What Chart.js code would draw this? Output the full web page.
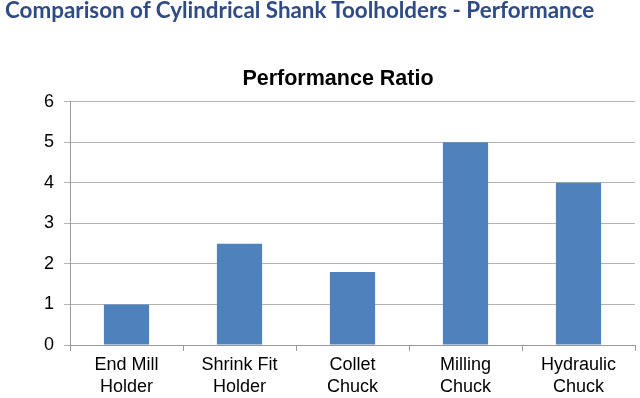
<!DOCTYPE html>
<html>
<head>
<meta charset="utf-8">
<script src="https://cdn.jsdelivr.net/npm/chart.js@4/dist/chart.umd.min.js"></script>
<style>
  html, body { margin: 0; padding: 0; background: #fff; }
  #page { position: relative; width: 640px; height: 398px; overflow: hidden; }
  #heading {
    position: absolute; left: 5px; top: -1px;
    font: bold 22.4px Lato, 'Open Sans', sans-serif; line-height: 22px;
    color: #2e4b85; white-space: nowrap;
  }
  #chart-wrap { position: absolute; left: 0; top: 0; width: 640px; height: 398px; }
</style>
</head>
<body>
<div id="page">
  <div id="chart-wrap"><canvas id="chart-perf"></canvas></div>
  <div id="heading">Comparison of Cylindrical Shank Toolholders - Performance</div>
</div>
<script>
// data
const categories = [['End Mill', 'Holder'], ['Shrink Fit', 'Holder'], ['Collet', 'Chuck'], ['Milling', 'Chuck'], ['Hydraulic', 'Chuck']];
const ratios = [1, 2.5, 1.8, 5, 4];
const yTicks = [0, 1, 2, 3, 4, 5, 6];

const FONT = 'Arial, "Liberation Sans", sans-serif';

new Chart(document.getElementById('chart-perf'), {
  type: 'bar',
  data: {
    labels: categories,
    datasets: [{
      label: 'Performance Ratio',
      data: ratios,
      backgroundColor: '#4f81bd',
      borderWidth: 0,
      barPercentage: 0.8,
      categoryPercentage: 0.5,
    }],
  },
  options: {
    responsive: true,
    maintainAspectRatio: false,
    animation: false,
    layout: { padding: { top: 65, left: 41, right: 5, bottom: 0 } },
    plugins: {
      legend: { display: false },
      tooltip: { enabled: false },
      title: {
        display: true,
        text: 'Performance Ratio',
        color: '#000',
        font: { family: FONT, size: 21.5, weight: 'bold', lineHeight: 1.2 },
        padding: { top: 1, bottom: 10 },
      },
    },
    scales: {
      x: {
        afterFit: s => { s.height = 53; },
        grid: { drawOnChartArea: false, drawTicks: true, tickLength: 6, color: '#999', offset: true },
        border: { color: '#999' },
        ticks: { color: '#000', font: { family: FONT, size: 18, lineHeight: 1.17 }, padding: 4, maxRotation: 0 },
      },
      y: {
        min: 0,
        max: 6,
        afterFit: s => { s.width = 29; },
        afterBuildTicks: s => { s.ticks = yTicks.map(v => ({ value: v })); },
        grid: { color: '#b3b3b3', tickLength: 6 },
        border: { color: '#999' },
        ticks: { color: '#000', font: { family: FONT, size: 18 }, padding: 10 },
      },
    },
  },
});
</script>
</body>
</html>
